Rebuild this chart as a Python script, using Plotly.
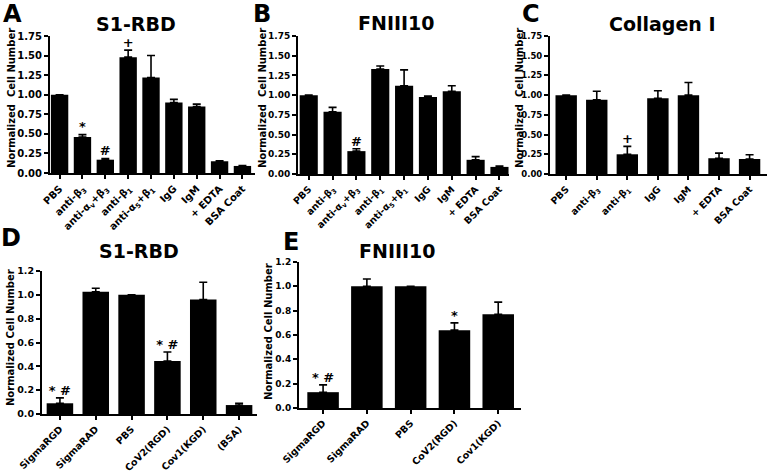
import plotly.graph_objects as go

# ---------------- data ----------------
cats_A = ["PBS", "anti-β<sub>3</sub>", "anti-α<sub>v</sub>+β<sub>3</sub>", "anti-β<sub>1</sub>",
          "anti-α<sub>5</sub>+β<sub>1</sub>", "IgG", "IgM", "+ EDTA", "BSA Coat"]
vals_A = [1.00, 0.46, 0.17, 1.48, 1.22, 0.90, 0.85, 0.15, 0.09]
errs_A = [0.0, 0.03, 0.015, 0.09, 0.28, 0.04, 0.03, 0.006, 0.006]
sig_A = ["", "*", "#", "+", "", "", "", "", ""]

cats_B = cats_A
vals_B = [1.00, 0.79, 0.29, 1.33, 1.12, 0.975, 1.05, 0.18, 0.09]
errs_B = [0.0, 0.055, 0.03, 0.04, 0.20, 0.015, 0.07, 0.04, 0.01]
sig_B = ["", "", "#", "", "", "", "", "", ""]

cats_C = ["PBS", "anti-β<sub>3</sub>", "anti-β<sub>1</sub>", "IgG", "IgM", "+ EDTA", "BSA Coat"]
vals_C = [1.00, 0.94, 0.25, 0.96, 1.00, 0.20, 0.19]
errs_C = [0.0, 0.11, 0.10, 0.095, 0.16, 0.065, 0.055]
sig_C = ["", "", "+", "", "", "", ""]

cats_D = ["SigmaRGD", "SigmaRAD", "PBS", "CoV2(RGD)", "Cov1(KGD)", "(BSA)"]
vals_D = [0.09, 1.025, 1.00, 0.445, 0.96, 0.075]
errs_D = [0.045, 0.03, 0.0, 0.075, 0.145, 0.015]
sig_D = ["* #", "", "", "* #", "", ""]

cats_E = ["SigmaRGD", "SigmaRAD", "PBS", "CoV2(RGD)", "Cov1(KGD)"]
vals_E = [0.13, 1.00, 1.00, 0.64, 0.77]
errs_E = [0.06, 0.06, 0.0, 0.06, 0.10]
sig_E = ["* #", "", "", "*", ""]

titles = ["S1-RBD", "FNIII10", "Collagen I", "S1-RBD", "FNIII10"]
letters = ["A", "B", "C", "D", "E"]
ytitles = ["Normalized  Cell Number"] * 3 + ["Normalized Cell Number"] * 2
y_ticks_top = [0, 0.25, 0.5, 0.75, 1.0, 1.25, 1.5, 1.75]
y_ticks_bot = [0, 0.2, 0.4, 0.6, 0.8, 1.0, 1.2]

# ---------------- layout geometry (pixels) ----------------
W, H = 768, 472
FONT = "DejaVu Sans"

panels = [
    dict(c=cats_A, v=vals_A, e=errs_A, s=sig_A, px=(50, 255), py=(173, 36), yr=1.75, xr=(-0.42, 8.55),
         bw=0.76, ticks=y_ticks_top, fmt=".2f", title_xy=(136, 24), letter_xy=(12, 14), ytitle_xy=(11, 98),
         fs=10, yfs=10),
    dict(c=cats_B, v=vals_B, e=errs_B, s=sig_B, px=(298, 509), py=(174, 36), yr=1.75, xr=(-0.45, 8.4),
         bw=0.76, ticks=y_ticks_top, fmt=".2f", title_xy=(396, 23), letter_xy=(262, 14), ytitle_xy=(262, 98),
         fs=9.5, yfs=9),
    dict(c=cats_C, v=vals_C, e=errs_C, s=sig_C, px=(550, 767), py=(174, 36), yr=1.75, xr=(-0.53, 6.57),
         bw=0.7, ticks=y_ticks_top, fmt=".2f", title_xy=(662, 24), letter_xy=(531, 14), ytitle_xy=(519, 98),
         fs=9.5, yfs=8.5),
    dict(c=cats_D, v=vals_D, e=errs_D, s=sig_D, px=(42, 257), py=(414, 271), yr=1.2, xr=(-0.5, 5.5),
         bw=0.74, ticks=y_ticks_bot, fmt=".1f", title_xy=(139, 251), letter_xy=(11, 238), ytitle_xy=(10, 338),
         fs=9.5, yfs=9.5),
    dict(c=cats_E, v=vals_E, e=errs_E, s=sig_E, px=(299, 521), py=(408, 262), yr=1.2, xr=(-0.55, 4.52),
         bw=0.72, ticks=y_ticks_bot, fmt=".1f", title_xy=(397, 251), letter_xy=(291, 242), ytitle_xy=(268, 332),
         fs=9.5, yfs=9),
]

fig = go.Figure()
annotations = []

for i, p in enumerate(panels):
    n = "" if i == 0 else str(i + 1)
    xa, ya = "x" + n, "y" + n
    fig.add_trace(go.Bar(
        x=p["c"], y=p["v"], xaxis=xa, yaxis=ya, width=p["bw"],
        marker=dict(color="black", line=dict(width=0)),
        error_y=dict(type="data", symmetric=False, array=p["e"], arrayminus=[0] * len(p["e"]),
                     color="black", thickness=1.6, width=4),
        showlegend=False, hoverinfo="skip",
    ))
    # significance markers as a text trace placed at the top of each error bar
    tops = [v + e for v, e in zip(p["v"], p["e"])]
    fig.add_trace(go.Scatter(
        x=p["c"], y=tops, xaxis=xa, yaxis=ya, mode="text", text=p["s"],
        textposition="top center", cliponaxis=False,
        textfont=dict(family="DejaVu Sans", size=13, color="#000000", weight="bold"),
        showlegend=False, hoverinfo="skip",
    ))
    dom_x = [p["px"][0] / W, p["px"][1] / W]
    dom_y = [1 - p["py"][0] / H, 1 - p["py"][1] / H]
    fig.layout["xaxis" + n] = dict(
        domain=dom_x, anchor=ya, type="category", range=list(p["xr"]), automargin=False,
        showline=True, linecolor="black", linewidth=2, ticks="outside", ticklen=4,
        tickwidth=1.5, tickcolor="black", tickangle=-45, showgrid=False, zeroline=False,
        tickfont=dict(family=FONT, size=p["fs"], color="black", weight="bold"), fixedrange=True,
    )
    fig.layout["yaxis" + n] = dict(
        domain=dom_y, anchor=xa, range=[0, p["yr"]], automargin=False,
        showline=True, linecolor="black", linewidth=2, ticks="outside", ticklen=4,
        tickwidth=1.5, tickcolor="black", tickvals=p["ticks"], tickformat=p["fmt"],
        showgrid=False, zeroline=False,
        tickfont=dict(family=FONT, size=p["yfs"], color="black", weight="bold"), fixedrange=True,
    )
    # panel title
    annotations.append(dict(x=p["title_xy"][0] / W, y=1 - p["title_xy"][1] / H, xref="paper", yref="paper",
                            text=titles[i], showarrow=False, xanchor="center", yanchor="middle",
                            font=dict(family=FONT, size=19, color="black", weight="bold")))
    # panel letter
    annotations.append(dict(x=p["letter_xy"][0] / W, y=1 - p["letter_xy"][1] / H, xref="paper", yref="paper",
                            text=letters[i], showarrow=False, xanchor="center", yanchor="middle",
                            font=dict(family=FONT, size=24, color="black", weight="bold")))
    # y-axis title
    annotations.append(dict(x=p["ytitle_xy"][0] / W, y=1 - p["ytitle_xy"][1] / H, xref="paper", yref="paper",
                            text=ytitles[i], showarrow=False, textangle=-90, xanchor="center", yanchor="middle",
                            font=dict(family=FONT, size=10, color="black", weight="bold")))

fig.update_layout(
    template="none",
    width=W, height=H, margin=dict(l=0, r=0, t=0, b=0, autoexpand=False),
    paper_bgcolor="white", plot_bgcolor="white",
    annotations=annotations, bargap=0.2,
)

fig.write_html("out.html", config={"displayModeBar": False},
               post_script="document.body.style.margin='0px';")
